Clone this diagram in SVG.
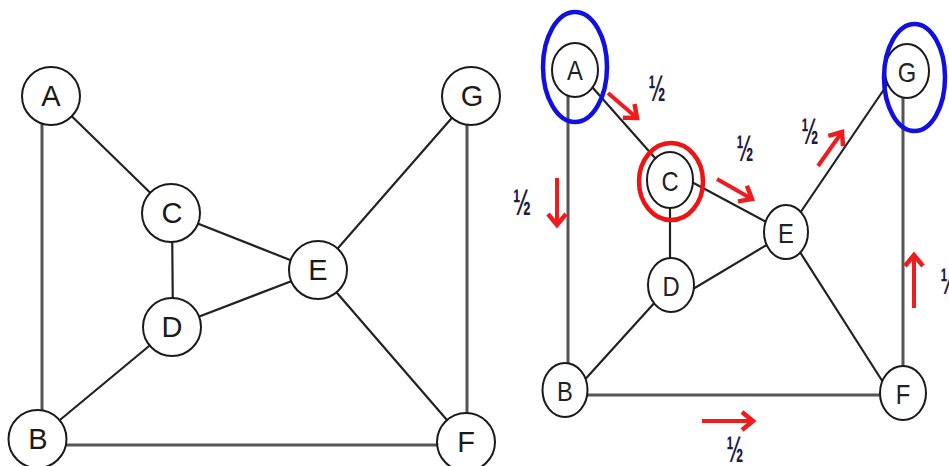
<svg xmlns="http://www.w3.org/2000/svg" width="949" height="466" viewBox="0 0 949 466">
<defs>
<style>
.e{stroke:#222;stroke-width:2.2;fill:none;stroke-linecap:round}
.g{stroke:#555;stroke-width:3;fill:none}
.n{fill:#fff;stroke:#1a1a1a;stroke-width:2}
.t{font-family:"Liberation Sans",Arial,sans-serif;font-size:29px;fill:#1a1a1a;text-anchor:middle}
.t2{font-family:"Liberation Sans",Arial,sans-serif;font-size:27px;fill:#222;text-anchor:middle}
.ar{stroke:#ee1c1c;stroke-width:4;fill:none;marker-end:url(#h)}
.h{font-family:"Liberation Sans",Arial,sans-serif;font-size:37px;font-weight:bold;fill:#1d1d3f;text-anchor:middle}
.blue{fill:none;stroke:#1010e0;stroke-width:4.5}
.red{fill:none;stroke:#ee1414;stroke-width:4.5}
</style>
<marker id="h" viewBox="-14 -12 18 24" markerWidth="18" markerHeight="24" refX="0" refY="0" orient="auto" markerUnits="userSpaceOnUse">
<path d="M-11,-9 L0,0 L-11,9" fill="none" stroke="#ee1c1c" stroke-width="4.5"/>
</marker>
</defs>
<rect width="949" height="466" fill="#fff"/>
<g id="connectors-left">
<line class="g" x1="42" y1="110" x2="42" y2="425"/>
<line class="g" x1="467" y1="110" x2="467" y2="430"/>
<line class="g" x1="50" y1="445" x2="455" y2="445"/>
<line class="e" x1="51" y1="96" x2="171" y2="213"/>
<line class="e" x1="171" y1="213" x2="318" y2="271"/>
<line class="e" x1="172" y1="213" x2="173" y2="327"/>
<line class="e" x1="172" y1="327" x2="318" y2="271"/>
<line class="e" x1="172" y1="327" x2="37" y2="439"/>
<line class="e" x1="318" y1="271" x2="471" y2="96"/>
<line class="e" x1="318" y1="271" x2="466" y2="442"/>
</g>
<g id="left-A"><circle class="n" cx="51" cy="96" r="29"/><text class="t" x="51" y="106">A</text></g>
<g id="left-C"><circle class="n" cx="171" cy="213" r="29"/><text class="t" x="172" y="223">C</text></g>
<g id="left-D"><circle class="n" cx="172" cy="327" r="29"/><text class="t" x="172" y="337">D</text></g>
<g id="left-E"><circle class="n" cx="318" cy="270" r="29"/><text class="t" x="318" y="280">E</text></g>
<g id="left-G"><circle class="n" cx="471" cy="96" r="29"/><text class="t" x="472" y="106">G</text></g>
<g id="left-B"><circle class="n" cx="37.5" cy="439" r="29"/><text class="t" x="38" y="449">B</text></g>
<g id="left-F"><circle class="n" cx="466" cy="442" r="29"/><text class="t" x="466" y="452">F</text></g>

<g id="connectors-right">
<line class="g" x1="568" y1="90" x2="568" y2="370"/>
<line class="g" x1="903" y1="90" x2="903" y2="372"/>
<line class="g" x1="580" y1="395" x2="890" y2="395"/>
<line class="e" x1="585" y1="79" x2="655" y2="158"/>
<line class="e" x1="670" y1="200" x2="670" y2="265"/>
<line class="e" x1="688" y1="180" x2="770" y2="224"/>
<line class="e" x1="688" y1="292" x2="770" y2="243"/>
<line class="e" x1="657" y1="300" x2="580" y2="385"/>
<line class="e" x1="798" y1="216" x2="889" y2="82"/>
<line class="e" x1="798" y1="249" x2="888" y2="390"/>
</g>
<g id="right-A"><ellipse class="n" cx="575" cy="70" rx="23" ry="27"/><text class="t2" transform="translate(575 70) scale(0.88 1)" x="0" y="9.5">A</text><ellipse class="blue" cx="575" cy="67" rx="32" ry="55"/></g>
<g id="right-C"><ellipse class="n" cx="670" cy="180" rx="23" ry="28"/><text class="t2" transform="translate(670 181) scale(0.88 1)" x="0" y="9.5">C</text><ellipse class="red" cx="671" cy="181.5" rx="32" ry="38.5"/></g>
<g id="right-D"><ellipse class="n" cx="671" cy="285" rx="23" ry="27"/><text class="t2" transform="translate(671 286) scale(0.88 1)" x="0" y="9.5">D</text></g>
<g id="right-E"><ellipse class="n" cx="786" cy="232" rx="22" ry="27"/><text class="t2" transform="translate(786 233) scale(0.88 1)" x="0" y="9.5">E</text></g>
<g id="right-G"><ellipse class="n" cx="907" cy="71" rx="22" ry="27"/><text class="t2" transform="translate(907 72) scale(0.88 1)" x="0" y="9.5">G</text><ellipse class="blue" cx="914.5" cy="77.5" rx="30.5" ry="53.5"/></g>
<g id="right-B"><ellipse class="n" cx="565" cy="390" rx="22.5" ry="27"/><text class="t2" transform="translate(565 391) scale(0.88 1)" x="0" y="9.5">B</text></g>
<g id="right-F"><ellipse class="n" cx="903" cy="393" rx="23" ry="27"/><text class="t2" transform="translate(903 394) scale(0.88 1)" x="0" y="9.5">F</text></g>

<g id="flow-arrows">
<line class="ar" x1="608" y1="93" x2="637" y2="118"/>
<line class="ar" x1="557" y1="178" x2="557" y2="225"/>
<line class="ar" x1="717" y1="179" x2="752" y2="199"/>
<line class="ar" x1="818" y1="166" x2="842" y2="132"/>
<line class="ar" x1="914" y1="308" x2="914" y2="255"/>
<line class="ar" x1="702" y1="421" x2="753" y2="421"/>
</g>
<g id="flow-labels">
<text class="h" x="657" y="101" textLength="17" lengthAdjust="spacingAndGlyphs">½</text>
<text class="h" x="522" y="215" textLength="18" lengthAdjust="spacingAndGlyphs">½</text>
<text class="h" x="745" y="161" textLength="17" lengthAdjust="spacingAndGlyphs">½</text>
<text class="h" x="810" y="144" textLength="17" lengthAdjust="spacingAndGlyphs">½</text>
<text class="h" x="949" y="294" textLength="17" lengthAdjust="spacingAndGlyphs">½</text>
<text class="h" x="735" y="462" textLength="17" lengthAdjust="spacingAndGlyphs">½</text>
</g>
</svg>
